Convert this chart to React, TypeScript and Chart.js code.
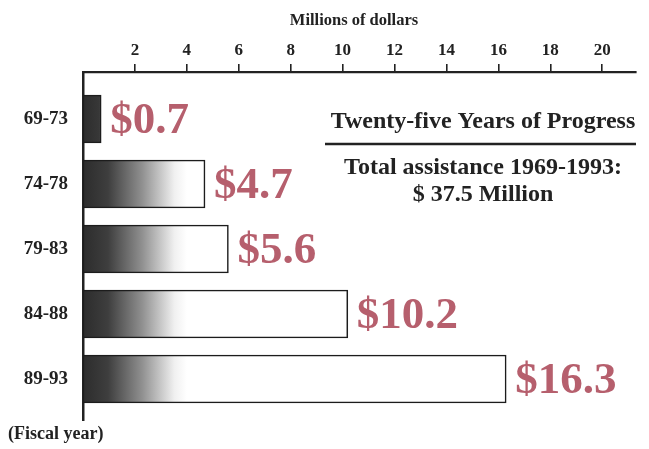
import React, { useEffect, useRef } from "react";
import { Chart, registerables } from "chart.js";

Chart.register(...registerables);

const periods = ["69-73", "74-78", "79-83", "84-88", "89-93"];
const amounts = [0.7, 4.7, 5.6, 10.2, 16.3];
const xTickValues = [2, 4, 6, 8, 10, 12, 14, 16, 18, 20];
const axisTitle = "Millions of dollars";
const footLabel = "(Fiscal year)";
const headline = "Twenty-five Years of Progress";
const subLines = ["Total assistance 1969-1993:", "$ 37.5 Million"];

const SERIF = '"Liberation Serif", "DejaVu Serif", serif';
const INK = "#222222";
const ROSE = "#b65f6d";

export default function App() {
  const ref = useRef<HTMLCanvasElement | null>(null);

  useEffect(() => {
    document.body.style.margin = "0";
    const canvas = ref.current;
    if (!canvas) return;

    const textPlugin = {
      id: "textPlugin",
      afterDraw(chart: any) {
        const ctx = chart.ctx;
        const area = chart.chartArea;
        ctx.save();
        // axis title
        ctx.fillStyle = INK;
        ctx.textAlign = "center";
        ctx.textBaseline = "alphabetic";
        ctx.font = `bold 16.5px ${SERIF}`;
        ctx.fillText(axisTitle, 354, 25);
        // value labels
        const meta = chart.getDatasetMeta(0);
        ctx.fillStyle = ROSE;
        ctx.font = `bold 45px ${SERIF}`;
        ctx.textAlign = "left";
        meta.data.forEach((bar: any, i: number) => {
          ctx.fillText("$" + amounts[i].toFixed(1), bar.x + 9, bar.y + 14);
        });
        // headline block
        const cx = 483;
        ctx.fillStyle = INK;
        ctx.textAlign = "center";
        ctx.font = `bold 24px ${SERIF}`;
        ctx.fillText(headline, cx, area.top + 56);
        ctx.strokeStyle = INK;
        ctx.lineWidth = 2.5;
        ctx.beginPath();
        ctx.moveTo(325, area.top + 72);
        ctx.lineTo(area.right, area.top + 72);
        ctx.stroke();
        ctx.font = `bold 24px ${SERIF}`;
        ctx.fillText(subLines[0], cx, area.top + 102);
        ctx.fillText(subLines[1], cx, area.top + 129);
        // footer
        ctx.textAlign = "left";
        ctx.font = `bold 18px ${SERIF}`;
        ctx.fillText(footLabel, 8, 439);
        ctx.restore();
      },
    };

    const chart = new Chart(canvas, {
      type: "bar",
      data: {
        labels: periods,
        datasets: [
          {
            data: amounts.map((v, i) => ({ x: v, y: i })) as any,
            barThickness: 48,
            borderWidth: 1.6,
            borderColor: "#1c1c1c",
            borderSkipped: false,
            backgroundColor: (c: any) => {
              const ch = c.chart;
              const xs = ch.scales?.x;
              if (!xs || !ch.chartArea) return "#444";
              const x0 = xs.getPixelForValue(0);
              const x1 = xs.getPixelForValue(4);
              const g = ch.ctx.createLinearGradient(x0, 0, x1, 0);
              g.addColorStop(0, "#2c2c2c");
              g.addColorStop(0.24, "#3e3e3e");
              g.addColorStop(0.57, "#909090");
              g.addColorStop(0.88, "#f0f0f0");
              g.addColorStop(1, "#ffffff");
              return g;
            },
          },
        ],
      },
      options: {
        indexAxis: "y",
        responsive: false,
        animation: false,
        layout: { padding: { left: 0, top: 0, right: 13, bottom: 29 } },
        plugins: {
          legend: { display: false },
          tooltip: { enabled: false },
        },
        scales: {
          x: {
            type: "linear",
            position: "top",
            min: 0,
            max: 21.3,
            afterBuildTicks: (s: any) => {
              s.ticks = xTickValues.map((v) => ({ value: v }));
            },
            afterFit: (s: any) => {
              s.height = 72;
            },
            ticks: {
              color: INK,
              padding: 3,
              font: { family: SERIF, size: 17, weight: "bold" },
            },
            grid: {
              drawOnChartArea: false,
              drawTicks: true,
              tickLength: 8,
              color: INK,
              lineWidth: 1.6,
            },
            border: { display: true, color: INK, width: 2.2 },
            title: { display: false },
          },
          y: {
            type: "linear",
            reverse: true,
            offset: false,
            min: -0.723,
            max: 4.63,
            afterBuildTicks: (s: any) => {
              s.ticks = periods.map((_, i) => ({ value: i }));
            },
            afterFit: (s: any) => {
              s.width = 83;
            },
            ticks: {
              color: INK,
              padding: 15,
              font: { family: SERIF, size: 19, weight: "bold" },
              callback: (v: any) => periods[v as number] ?? "",
            },
            grid: { drawOnChartArea: false, drawTicks: false, offset: false },
            border: { display: true, color: INK, width: 2.5 },
          },
        },
      },
      plugins: [textPlugin],
    } as any);

    return () => chart.destroy();
  }, []);

  return (
    <div style={{ width: 649, height: 449, background: "#fff" }}>
      <canvas ref={ref} width={649} height={449} style={{ display: "block" }} />
    </div>
  );
}
